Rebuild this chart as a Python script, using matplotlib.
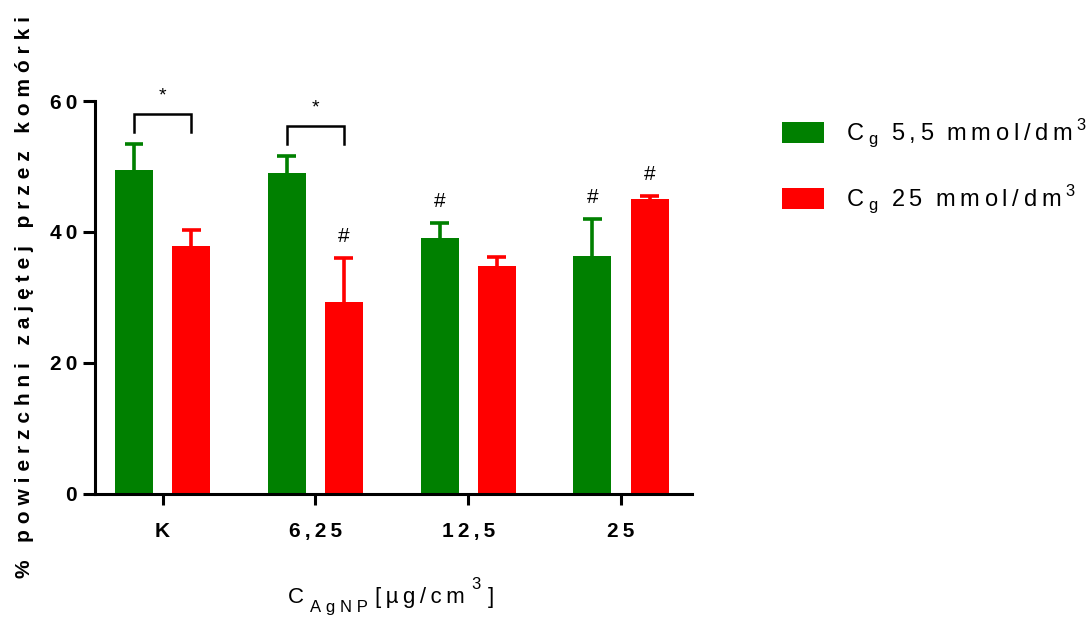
import numpy as np
import matplotlib
matplotlib.use('agg')
import matplotlib.pyplot as plt
from matplotlib.patches import Patch

####  Data  ####################################################################
groups = ['K', '6,25', '12,5', '25']
low_glucose = [49.5, 49.0, 39.1, 36.3]        # Cg 5,5 mmol/dm3
low_glucose_sd = [3.9, 2.6, 2.3, 5.7]
high_glucose = [37.9, 29.3, 34.8, 45.0]       # Cg 25 mmol/dm3
high_glucose_sd = [2.4, 6.7, 1.4, 0.5]

# '#' markers above bars: (group index, series)
hash_marks = [(1, 'high'), (2, 'low'), (3, 'low'), (3, 'high')]
# '*' brackets between the two series in a group
star_groups = [0, 1]

GREEN = '#008000'
RED = '#ff0000'


def spaced(s, gap='\u2009'):
    """Loosen letter spacing the way the plotting program does."""
    return gap.join(s)


plt.rcParams['font.family'] = ['Liberation Sans', 'DejaVu Sans']
plt.rcParams['mathtext.fontset'] = 'custom'
plt.rcParams['mathtext.rm'] = 'Liberation Sans'

fig = plt.figure(figsize=(10.91, 6.17), dpi=100)
ax = fig.add_axes([0.0871, 0.1994, 0.5472, 0.6369])

x = np.arange(len(groups))
width = 0.249
off = 0.187
cap = 0.062

ax.bar(x - off, low_glucose, width, color=GREEN)
ax.bar(x + off, high_glucose, width, color=RED)

# upper error bars only (line + cap)
for xs, vals, sds, col in [(x - off, low_glucose, low_glucose_sd, GREEN),
                           (x + off, high_glucose, high_glucose_sd, RED)]:
    tops = np.array(vals) + np.array(sds)
    ax.vlines(xs, vals, tops, color=col, lw=2.6)
    ax.hlines(tops, xs - cap, xs + cap, color=col, lw=2.6)

# significance markers
for i, series in hash_marks:
    if series == 'low':
        top = low_glucose[i] + low_glucose_sd[i]
        xp = x[i] - off
    else:
        top = high_glucose[i] + high_glucose_sd[i]
        xp = x[i] + off
    ax.text(xp, top + 1.8, '#', ha='center', va='bottom', fontsize=15,
            clip_on=False)

for i in star_groups:
    top = max(low_glucose[i] + low_glucose_sd[i], high_glucose[i] + high_glucose_sd[i])
    y0 = top + 1.9
    y1 = y0 + 2.7
    ax.plot([x[i] - off, x[i] - off, x[i] + off, x[i] + off], [y0, y1, y1, y0],
            color='black', lw=1.8, clip_on=False, solid_joinstyle='miter')
    ax.text(x[i], y1 + 1.4, '*', ha='center', va='bottom', fontsize=14,
            clip_on=False)

####  Axes  ####################################################################
ax.set_xlim(-0.442, 3.465)
ax.set_ylim(0, 60)
ax.set_yticks([0, 20, 40, 60])
ax.set_yticklabels([spaced(str(v)) for v in [0, 20, 40, 60]],
                   fontsize=15, fontweight='bold')
ax.set_xticks(x)
ax.set_xticklabels([spaced(g) for g in groups], fontsize=15, fontweight='bold')
ax.tick_params(axis='y', length=9, width=2.2, pad=4)
ax.tick_params(axis='x', length=8, width=2.2, pad=12)

for side in ['top', 'right']:
    ax.spines[side].set_visible(False)
for side in ['left', 'bottom']:
    ax.spines[side].set_linewidth(2.2)

ax.set_ylabel(spaced('% powierzchni zajętej przez komórki', '\u2009\u200a'),
              fontsize=15, fontweight='bold')
ax.yaxis.set_label_coords(-0.103, 0.5)

fig.text(0.2635, 0.022, 'C', fontsize=16, ha='left', va='baseline')
fig.text(0.2845, 0.008, spaced('AgNP', '\u2009\u200a'), fontsize=12,
         ha='left', va='baseline')
fig.text(0.344, 0.022, spaced('[µg/cm'), fontsize=16, ha='left', va='baseline')
fig.text(0.432, 0.046, '3', fontsize=12, ha='left', va='baseline')
fig.text(0.447, 0.022, ']', fontsize=16, ha='left', va='baseline')

####  Legend  ##################################################################
handles = [Patch(facecolor=GREEN), Patch(facecolor=RED)]
labels = [
    'C\u2009$_{\\mathregular{g}}$  ' + spaced('5,5') + '  ' + spaced('mmol/dm') + '\u2009$^{\\mathregular{3}}$',
    'C\u2009$_{\\mathregular{g}}$  ' + spaced('25') + '  ' + spaced('mmol/dm') + '\u2009$^{\\mathregular{3}}$',
]
fig.legend(handles, labels, loc='upper left', bbox_to_anchor=(0.7085, 0.825),
           frameon=False, fontsize=17, handlelength=1.75, handleheight=1.0,
           handletextpad=0.95, labelspacing=1.4, borderaxespad=0)

fig.savefig('out.png', dpi=100)
